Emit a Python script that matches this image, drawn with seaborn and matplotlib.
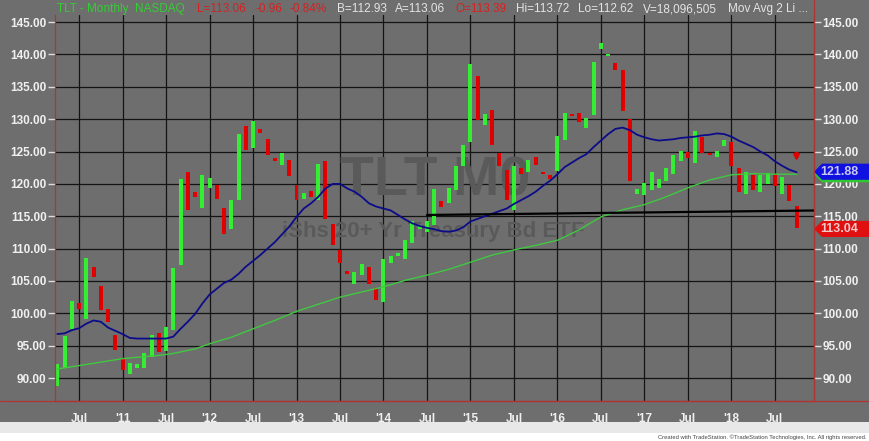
import numpy as np
import pandas as pd
import matplotlib
matplotlib.use("Agg")
import matplotlib.pyplot as plt
import seaborn as sns
from matplotlib.patches import Polygon, Rectangle
from matplotlib.lines import Line2D

# monthly bars, Apr 2010 .. Oct 2018
months = pd.date_range("2010-04-01", periods=103, freq="MS")

opens = [88.8, 91.6, 97.6, 101.6, 99.2, 107.1, 104.2, 100.7, 96.6, 93.1,
         90.6, 91.5, 91.6, 93.2, 96.9, 94.2, 97.4, 107.5, 121.9, 118.8,
         116.3, 119.4, 119.8, 116.2, 113.1, 117.5, 128.9, 125.5, 128.5, 126.9,
         124.0, 122.9, 123.7, 119.8, 117.7, 118.9, 117.5, 123.6, 113.8, 109.8,
         106.6, 104.6, 105.9, 107.1, 103.9, 101.7, 107.8, 108.9, 108.4, 110.9,
         113.1, 112.6, 113.7, 117.4, 117.0, 119.0, 122.8, 126.4, 136.7, 129.1,
         131.4, 124.8, 122.2, 115.9, 122.4, 121.8, 124.2, 121.9, 121.3, 122.0,
         126.8, 130.8, 130.9, 128.6, 130.6, 140.9, 139.8, 138.7, 137.6, 130.1,
         118.4, 118.3, 119.1, 119.3, 120.4, 121.6, 123.6, 125.0, 123.2, 127.3,
         124.7, 124.2, 125.8, 126.4, 122.5, 118.4, 121.3, 118.7, 120.0, 121.5,
         118.4, 119.9, 116.6]
closes = [92.1, 96.5, 101.9, 100.6, 108.6, 105.6, 100.5, 98.6, 94.3, 91.3,
          92.4, 92.1, 93.9, 96.7, 94.1, 97.9, 107.0, 120.8, 116.0, 117.9,
          121.3, 120.9, 117.6, 112.3, 117.5, 127.7, 125.3, 129.7, 127.8, 124.4,
          123.5, 124.8, 121.2, 117.5, 118.6, 117.9, 123.1, 114.5, 110.6, 107.8,
          106.1, 106.4, 107.7, 104.6, 102.0, 108.4, 108.8, 109.3, 111.3, 114.2,
          113.6, 114.2, 119.2, 116.5, 119.3, 122.7, 126.0, 138.5, 129.9, 130.8,
          126.0, 122.8, 117.5, 122.7, 121.5, 123.7, 122.9, 121.6, 120.8, 127.4,
          131.0, 130.5, 129.5, 130.2, 138.9, 141.7, 140.0, 137.6, 131.2, 120.4,
          119.2, 120.1, 121.8, 120.8, 122.5, 124.4, 125.1, 124.0, 128.1, 124.7,
          124.5, 125.1, 126.8, 122.7, 118.7, 121.8, 119.1, 121.3, 121.7, 119.7,
          121.0, 117.3, 113.2]

blue_ma = [96.8, 96.9, 97.4, 97.7, 98.4, 98.9, 98.7, 97.8, 97.3, 96.8,
           96.2, 96.1, 96.1, 96.1, 96.1, 96.1, 96.4, 97.6, 98.7, 99.9,
           101.5, 102.9, 103.8, 104.7, 105.2, 106.1, 107.2, 108.1, 109.0, 110.0,
           111.0, 112.2, 113.4, 114.9, 116.2, 117.0, 118.0, 119.3, 120.0, 120.0,
           119.3, 118.8, 118.0, 117.0, 116.5, 116.2, 115.9, 115.2, 114.5, 113.9,
           113.5, 113.2, 113.0, 112.7, 112.6, 112.8, 113.3, 114.2, 114.6, 115.0,
           115.4, 115.8, 116.2, 116.9, 117.5, 118.1, 118.8, 119.7, 120.5, 121.5,
           122.6, 123.3, 124.0, 124.6, 125.7, 126.7, 127.7, 128.5, 128.7, 128.3,
           127.6, 127.2, 126.9, 126.7, 126.8, 126.9, 127.1, 127.2, 127.3, 127.5,
           127.6, 127.8, 127.7, 127.3, 126.7, 126.2, 125.7, 125.0, 124.4, 123.5,
           122.8, 122.2, 121.8]

# slow average, read every few bars
green_ma_idx = [0, 4, 9, 14, 16, 19, 21, 24, 27, 30, 33, 36, 39, 42, 45, 48,
                51, 54, 57, 60, 63, 66, 69, 72, 75, 78, 81, 84, 87, 90, 93,
                96, 99, 102]
green_ma = [91.4, 92.1, 93.0, 93.5, 93.8, 94.5, 95.3, 96.3, 97.6, 98.9, 100.3,
            101.4, 102.5, 103.3, 104.1, 105.1, 105.9, 106.8, 107.9, 109.0,
            109.8, 110.5, 111.3, 112.9, 114.9, 116.0, 116.8, 118.0, 119.4,
            120.6, 121.4, 121.6, 121.5, 121.5]

support_x = [51, 105.2]
support_y = [115.2, 115.9]

tick_pos = list(range(3, 103, 6))
tick_labels = ["Jul", "'11", "Jul", "'12", "Jul", "'13", "Jul", "'14", "Jul",
               "'15", "Jul", "'16", "Jul", "'17", "Jul", "'18", "Jul"]

BG = "#6e6e6e"
UP = "#33ee33"
DN = "#e00000"
GRID = "#141414"
BORDER = "#b03434"
TXT = "#f0f0f0"
WATERMARK = "#5a5a5a"

sns.set_theme(style="dark", rc={"axes.facecolor": BG, "figure.facecolor": BG,
                                "grid.color": GRID})
plt.rcParams["font.family"] = ["Liberation Sans", "DejaVu Sans"]

W, H = 869, 441
fig = plt.figure(figsize=(W / 100, H / 100), dpi=100)
ax = fig.add_axes([55 / W, 1 - 400.7 / H, (814 - 55) / W, (400.7 - 15) / H])

x = np.arange(len(months))
o = np.array(opens)
c = np.array(closes)
up = c >= o
ax.bar(x[up], (c - o)[up], bottom=o[up], width=0.55, color=UP,
       edgecolor="none", linewidth=0, zorder=2)
ax.bar(x[~up], (o - c)[~up], bottom=c[~up], width=0.55, color=DN,
       edgecolor="none", linewidth=0, zorder=2)

sns.lineplot(x=green_ma_idx, y=green_ma, ax=ax, color="#40c840", lw=1.0, zorder=3)
sns.lineplot(x=x, y=blue_ma, ax=ax, color="#0c0c8a", lw=1.3, zorder=3)
sns.lineplot(x=support_x, y=support_y, ax=ax, color="black", lw=1.6, zorder=3)

ax.annotate("", xy=(102, 123.1), xytext=(102, 125.2),
            arrowprops=dict(arrowstyle="-|>", color=DN, lw=1.8, mutation_scale=8),
            zorder=4)

# watermark, drawn inside the axes so the bars sit on top of it
ax.text(435 / W, 1 - 181 / H, "TLT M0", transform=fig.transFigure, fontsize=40,
        fontweight="bold", color=WATERMARK, ha="center", va="center", zorder=1)
ax.text(433 / W, 1 - 232 / H, "iShs 20+ Yr Treasury Bd ETF",
        transform=fig.transFigure, fontsize=16, fontweight="bold",
        color=WATERMARK, ha="center", va="center", zorder=1)

ax.set_xlim(-0.32, 104.4)
ax.set_ylim(86.5, 146.1)
ax.set_yticks(range(90, 150, 5))
ax.set_yticklabels([f"{v:.2f}" for v in range(90, 150, 5)])
ax.set_xticks(tick_pos)
ax.set_xticklabels(tick_labels)
ax.set_xticks(tick_pos[1::2], minor=True)
ax.grid(True, color=GRID, lw=0.9)
ax.set_axisbelow(True)
ax.set_xlabel("")
ax.set_ylabel("")
ax.tick_params(axis="y", left=True, right=True, labelleft=True, labelright=True,
               length=5, width=1, color="#dcdcdc", pad=1, labelsize=8.5,
               labelcolor=TXT)
ax.tick_params(axis="x", which="major", length=0, pad=9, labelsize=8.5,
               labelcolor=TXT)
ax.tick_params(axis="x", which="minor", bottom=True, length=7, width=1,
               color=BORDER)
for lab in ax.get_xticklabels() + ax.get_yticklabels():
    lab.set_fontweight("bold")
for side in ["left", "right", "bottom"]:
    ax.spines[side].set_visible(True)
    ax.spines[side].set_color(BORDER)
    ax.spines[side].set_linewidth(0.9)
ax.spines["top"].set_visible(False)

# last-value flags on the right scale
ytr = ax.get_yaxis_transform()
for yc, fc, txt, tc in [(121.5, "#30c830", None, None),
                        (121.88, "#1010e0", "121.88", "#c8c8f0"),
                        (113.04, "#e01010", "113.04", "#f0c8c8")]:
    hh = 1.25
    poly = Polygon([(1.0, yc), (1.0105, yc - hh), (1.08, yc - hh),
                    (1.08, yc + hh), (1.0105, yc + hh)], closed=True,
                   transform=ytr, facecolor=fc, edgecolor="none",
                   clip_on=False, zorder=10)
    ax.add_patch(poly)
    if txt:
        ax.text(1.008, yc, txt, transform=ytr, fontsize=9, fontweight="bold",
                color=tc, ha="left", va="center", clip_on=False, zorder=11)

# header line
hdr = [(57, "TLT - Monthly  NASDAQ", "#35cc35"),
       (197, "L=113.06", "#d42222"), (255, "-0.96", "#d42222"),
       (290, "-0.84%", "#d42222"), (337, "B=112.93", "#e4e4e4"),
       (395, "A=113.06", "#e4e4e4"), (455, "O=113.39", "#d42222"),
       (516, "Hi=113.72", "#e4e4e4"), (578, "Lo=112.62", "#e4e4e4"),
       (643, "V=18,096,505", "#e4e4e4"), (728, "Mov Avg 2 Li ...", "#e4e4e4")]
for hx, s, col in hdr:
    fig.text(hx / W, 1 - 9 / H, s, fontsize=8.5, color=col, ha="left",
             va="center")

# frame lines that run past the plot
fig.add_artist(Line2D([814 / W, 814 / W], [1 - 400.7 / H, 1.0], color=BORDER, lw=0.9))
fig.add_artist(Line2D([0, 1], [1 - 400.7 / H, 1 - 400.7 / H], color=BORDER, lw=0.9))

# scrollbar strip and footer
fig.add_artist(Rectangle((0, 0), 1, 1 - 422 / H, transform=fig.transFigure,
                         facecolor="white", edgecolor="none"))
fig.add_artist(Rectangle((0, 1 - 433 / H), 1, 11 / H, transform=fig.transFigure,
                         facecolor="#e8e8e8", edgecolor="none"))
fig.text(866 / W, 1 - 437.5 / H,
         "Created with TradeStation. \u00a9TradeStation Technologies, Inc. All rights reserved.",
         fontsize=4.2, color="#444444", ha="right", va="center")

fig.savefig("out.png", dpi=100, facecolor=BG)
